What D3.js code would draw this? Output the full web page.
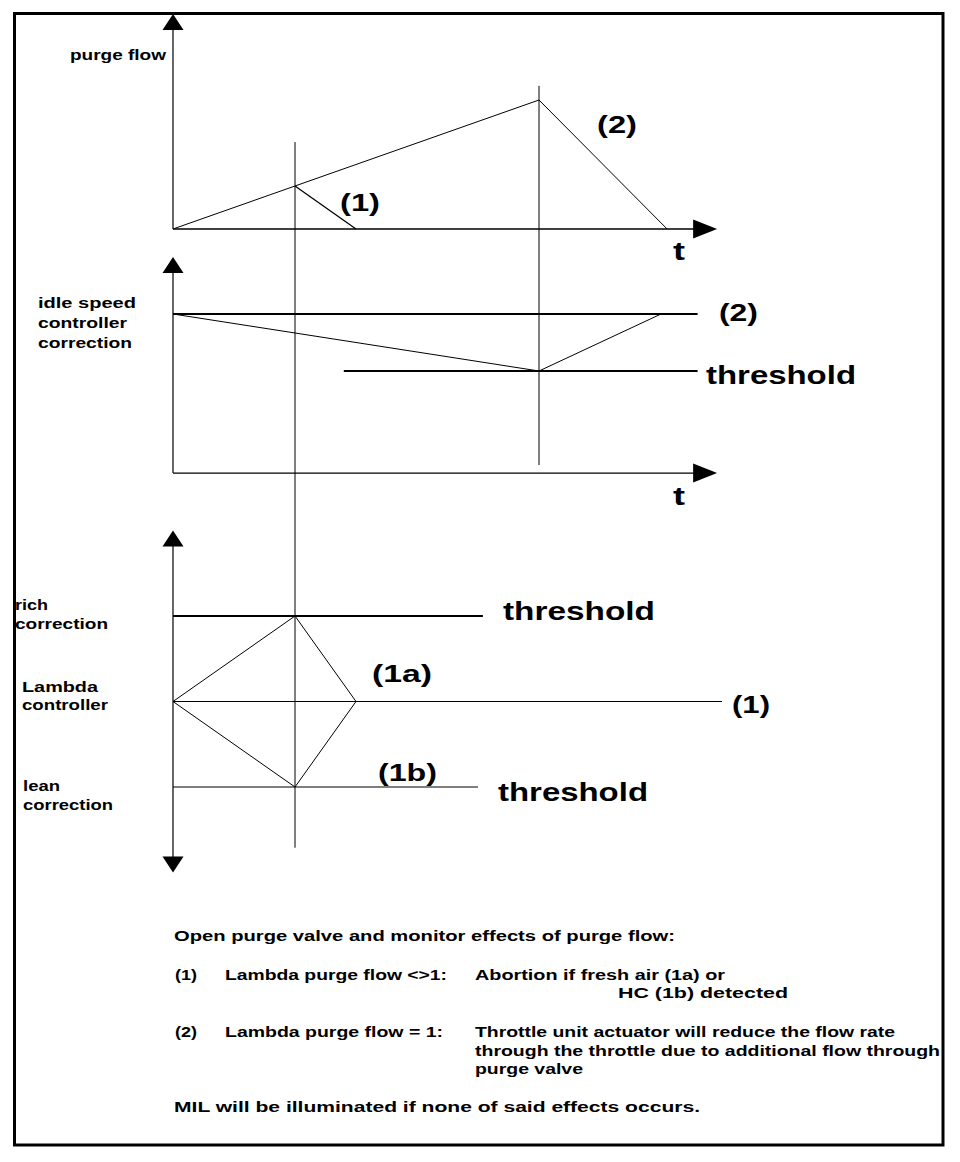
<!DOCTYPE html>
<html>
<head>
<meta charset="utf-8">
<script src="https://cdn.jsdelivr.net/npm/d3@7"></script>
<style>
  body { margin: 0; background: #fff; }
  text { font-family: "Liberation Sans", Arial, Helvetica, sans-serif; font-weight: bold; fill: #000; }
</style>
</head>
<body>
<script>
// event times on the common t axis (arbitrary units)
var events = [10, 30]

// purge flow, 1 = peak flow
var flowT = [0, 30, 40.5]
var flowV = [0, 1, 0]
var abortT = [10, 15]
var abortV = [0.333, 0]

// idle speed controller correction, threshold at -1
var idleT = [0, 30, 40]
var idleV = [0, -1, 0]
var idleRefT = [0, 43]
var idleThrT = [14, 43]

// lambda controller, rich +1 / lean -1
var richT = [0, 10, 15]
var richV = [0, 1, 0]
var leanT = [0, 10, 15]
var leanV = [0, -1, 0]
var lambdaT = [0, 45]
var richThrT = [0, 25.4]
var leanThrT = [0, 25]

// texts
var flowLabel = ['purge flow']
var idleLabel = ['idle speed', 'controller', 'correction']
var richLabel = ['rich', 'correction']
var lambdaLabel = ['Lambda', 'controller']
var leanLabel = ['lean', 'correction']
var notes = [
  'Open purge valve and monitor effects of purge flow:',
  '(1)', 'Lambda purge flow <>1:', 'Abortion if fresh air (1a) or', 'HC (1b) detected',
  '(2)', 'Lambda purge flow = 1:', 'Throttle unit actuator will reduce the flow rate',
  'through the throttle due to additional flow through', 'purge valve',
  'MIL will be illuminated if none of said effects occurs.'
]

var W = 960, H = 1162
var svg = d3.select('body').append('svg').attr('width', W).attr('height', H)

// frame
svg.append('rect')
  .attr('x', 14.5).attr('y', 13.5)
  .attr('width', 928.5).attr('height', 1131.5)
  .attr('fill', 'none').attr('stroke', '#000').attr('stroke-width', 3)

var x = d3.scaleLinear().domain([0, 45]).range([173, 722])
var yFlow = d3.scaleLinear().domain([0, 1]).range([229, 100])
var yIdle = d3.scaleLinear().domain([-1, 0]).range([371, 314])
var yLambda = d3.scaleLinear().domain([-1, 1]).range([787, 616])

var g = svg.append('g')

function seg(ts, vs, ys, w) {
  var line = d3.line().x(d => x(d[0])).y(d => ys(d[1]))
  g.append('path')
    .attr('d', line(ts.map((t, i) => [t, vs[i]])))
    .attr('fill', 'none').attr('stroke', '#000').attr('stroke-width', w || 1)
}

function hline(ts, v, ys, w) {
  seg(ts, [v, v], ys, w)
}

function upArrow(ys, vTip, vBottom) {
  var tip = ys(vTip)
  g.append('line')
    .attr('x1', x(0)).attr('x2', x(0))
    .attr('y1', tip + 14).attr('y2', ys(vBottom))
    .attr('stroke', '#000').attr('stroke-width', 1.2)
  g.append('path')
    .attr('d', 'M' + x(0) + ',' + tip + 'l-10.5,16h21z')
}

function rightArrow(ys, v, tEnd) {
  var y = ys(v), tip = x(tEnd)
  g.append('line')
    .attr('x1', x(0)).attr('x2', tip - 20)
    .attr('y1', y).attr('y2', y)
    .attr('stroke', '#000').attr('stroke-width', 1.3)
  g.append('path')
    .attr('d', 'M' + tip + ',' + y + 'l-24,-9.5v19z')
}

function label(txt, lx, ly, size, width) {
  var t = g.append('text')
    .attr('x', lx).attr('y', ly)
    .style('font-size', size + 'px')
    .text(txt)
  if (width) t.attr('textLength', width).attr('lengthAdjust', 'spacingAndGlyphs')
  return t
}

// event markers (vertical lines across panels)
g.append('line')
  .attr('x1', x(events[0])).attr('x2', x(events[0]))
  .attr('y1', yFlow(0.674)).attr('y2', yLambda(-1.71))
  .attr('stroke', '#000').attr('stroke-width', 1)
g.append('line')
  .attr('x1', x(events[1])).attr('x2', x(events[1]))
  .attr('y1', yFlow(1.11)).attr('y2', yIdle(-2.65))
  .attr('stroke', '#000').attr('stroke-width', 1)

// ---- purge flow panel
upArrow(yFlow, 1.667, 0)
rightArrow(yFlow, 0, 44.6)
seg(flowT, flowV, yFlow, 1)
seg(abortT, abortV, yFlow, 1.3)
label(flowLabel[0], 70, 60, 14, 96)
label('(1)', 340, 211, 23, 40)
label('(2)', 597, 133, 23, 40)
label('t', 673, 260, 25, 12)

// ---- idle speed panel
upArrow(yIdle, 1, -2.79)
rightArrow(yIdle, -2.79, 44.6)
hline(idleRefT, 0, yIdle, 2)
hline(idleThrT, -1, yIdle, 2)
seg(idleT, idleV, yIdle, 1)
idleLabel.forEach((s, i) => label(s, 38, 308 + i * 20, 14, [98, 89, 94][i]))
label('(2)', 719, 321, 23, 39)
label('threshold', 706, 384, 26, 150)
label('t', 673, 505, 25, 12)

// ---- lambda panel
var axTop = yLambda(2), axBot = yLambda(-2)
g.append('line')
  .attr('x1', x(0)).attr('x2', x(0))
  .attr('y1', axTop + 14).attr('y2', axBot - 14)
  .attr('stroke', '#000').attr('stroke-width', 1.2)
g.append('path').attr('d', 'M' + x(0) + ',' + axTop + 'l-10.5,16h21z')
g.append('path').attr('d', 'M' + x(0) + ',' + axBot + 'l-10.5,-16h21z')

hline(richThrT, 1, yLambda, 2)
hline(lambdaT, 0, yLambda, 1.2)
hline(leanThrT, -1, yLambda, 1.2)
seg(richT, richV, yLambda, 1)
seg(leanT, leanV, yLambda, 1)

richLabel.forEach((s, i) => label(s, 15, 610 + i * 19, 14, [33, 93][i]))
lambdaLabel.forEach((s, i) => label(s, 22, 692 + i * 18, 14, [76, 86][i]))
leanLabel.forEach((s, i) => label(s, 23, 791 + i * 19, 14, [37, 90][i]))
label('threshold', 503, 620, 26, 152)
label('(1a)', 372, 682, 23, 60)
label('(1)', 732, 713, 23, 38)
label('(1b)', 378, 781, 23, 59)
label('threshold', 498, 801, 26, 150)

// ---- notes
label(notes[0], 174, 941, 14, 501)
label(notes[1], 175, 980, 14, 22)
label(notes[2], 225, 980, 14, 222)
label(notes[3], 475, 980, 14, 250)
label(notes[4], 618, 998, 14, 170)
label(notes[5], 175, 1037, 14, 22)
label(notes[6], 225, 1037, 14, 218)
label(notes[7], 475, 1037, 14, 420)
label(notes[8], 475, 1056, 14, 465)
label(notes[9], 475, 1074, 14, 108)
label(notes[10], 174, 1112, 14, 526)
</script>
</body>
</html>
